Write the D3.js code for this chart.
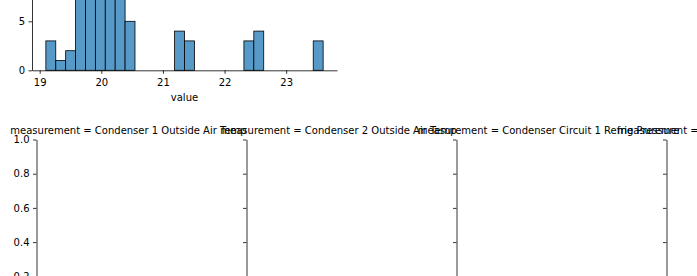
<!DOCTYPE html>
<html>
<head>
<meta charset="utf-8">
<script src="https://cdn.jsdelivr.net/npm/d3@7"></script>
<style>
  body { margin: 0; background: #fff; }
  svg { display: block; font-family: "DejaVu Sans", sans-serif; }
  .axis text { font-size: 10px; fill: #000; font-family: "DejaVu Sans", sans-serif; }
  .axis path, .axis line { stroke: #000; stroke-width: 0.8; }
</style>
</head>
<body>
<svg id="chart"></svg>
<script>
// histogram of the top facet (28 equal bins between the data min and max)
const binMin = 19.1;
const binMax = 23.6;
const binCounts = [3, 1, 2, 9, 12, 14, 12, 10, 5, 0, 0, 0, 0, 4, 3, 0, 0, 0, 0, 0, 3, 4, 0, 0, 0, 0, 0, 3];
const xTicks = [19, 20, 21, 22, 23];
const yTicksTop = [0, 5, 10, 15];

// empty facets of the next row (last title runs off the page)
const facetTitles = [
  "measurement = Condenser 1 Outside Air Temp",
  "measurement = Condenser 2 Outside Air Temp",
  "measurement = Condenser Circuit 1 Refrig Pressure",
  "measurement = Condenser Circuit 1 Refrig Temperature"
];
const yTicksFacet = [0, 0.2, 0.4, 0.6, 0.8, 1.0];

const W = 697, H = 276;
const svg = d3.select('#chart').attr('width', W).attr('height', H);

// ---- top histogram ----
const histBox = { left: 32, right: 337, base: 70.3, pxPerCount: 9.8 };
const span = binMax - binMin;
const bw = span / binCounts.length;
const bins = binCounts.map((c, i) => ({ x0: binMin + i * bw, x1: binMin + (i + 1) * bw, count: c }));

const xScale = d3.scaleLinear()
  .domain([binMin - span * 0.05, binMax + span * 0.05])
  .range([histBox.left, histBox.right]);

const yMax = d3.max(binCounts) * 1.05;
const yScale = d3.scaleLinear()
  .domain([0, yMax])
  .range([histBox.base, histBox.base - yMax * histBox.pxPerCount]);

svg.append('g')
  .selectAll('rect')
  .data(bins.filter(d => d.count > 0))
  .join('rect')
    .attr('x', d => xScale(d.x0))
    .attr('width', d => xScale(d.x1) - xScale(d.x0))
    .attr('y', d => yScale(d.count))
    .attr('height', d => yScale(0) - yScale(d.count))
    .attr('fill', '#5799c7')
    .attr('stroke', '#000')
    .attr('stroke-width', 0.8);

const xAxisG = svg.append('g')
  .attr('class', 'axis')
  .attr('transform', `translate(0,${histBox.base})`)
  .call(d3.axisBottom(xScale).tickValues(xTicks).tickFormat(d3.format('d'))
    .tickSize(3.5).tickPadding(3.5).tickSizeOuter(0));
xAxisG.selectAll('text').attr('dy', '0.84em');

svg.append('g')
  .attr('class', 'axis')
  .attr('transform', `translate(${histBox.left},0)`)
  .call(d3.axisLeft(yScale).tickValues(yTicksTop).tickFormat(d3.format('d'))
    .tickSize(3.5).tickPadding(3.5).tickSizeOuter(0));

svg.append('text')
  .attr('x', (histBox.left + histBox.right) / 2)
  .attr('y', 100.5)
  .attr('text-anchor', 'middle')
  .attr('font-size', 10)
  .text('value');

// ---- row of facets ----
const facet = { left: 36.5, step: 210, width: 184, top: 139.5, height: 171 };

const yFacet = d3.scaleLinear()
  .domain([0, 1])
  .range([facet.top + facet.height, facet.top]);

facetTitles.forEach((title, i) => {
  const x0 = facet.left + i * facet.step;
  const g = svg.append('g').attr('transform', `translate(${x0},0)`);

  g.append('g')
    .attr('class', 'axis')
    .call(d3.axisLeft(yFacet)
      .tickValues(yTicksFacet)
      .tickSize(3.5).tickPadding(3.5).tickSizeOuter(0)
      .tickFormat(i === 0 ? d3.format('.1f') : () => ''));

  g.append('text')
    .attr('x', facet.width / 2)
    .attr('y', facet.top - 6)
    .attr('text-anchor', 'middle')
    .attr('font-size', 10)
    .text(title);
});
</script>
</body>
</html>
